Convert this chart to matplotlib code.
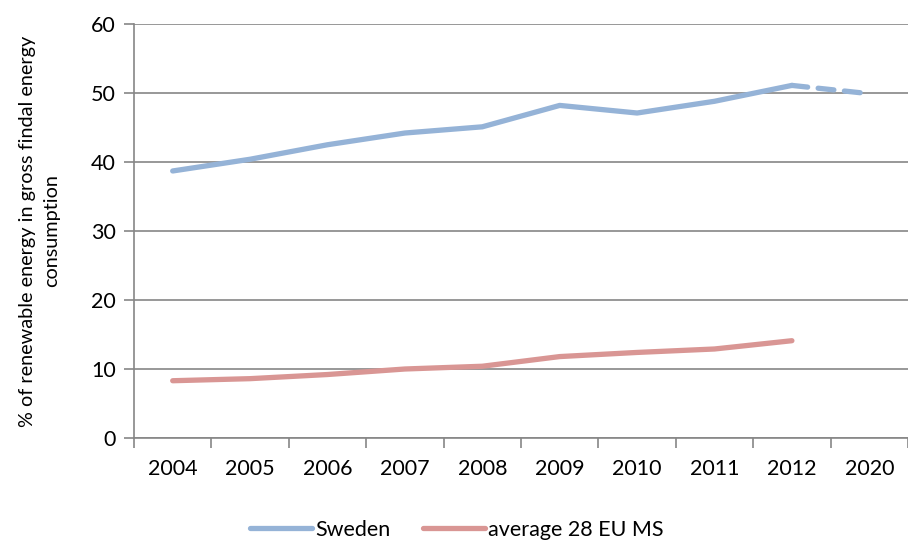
import matplotlib
matplotlib.use("Agg")
import matplotlib.pyplot as plt
import numpy as np

years = ["2004", "2005", "2006", "2007", "2008", "2009", "2010", "2011", "2012", "2020"]
sweden = [38.7, 40.4, 42.5, 44.2, 45.1, 48.2, 47.1, 48.8, 51.1, 49.9]
eu28 = [8.3, 8.6, 9.2, 10.0, 10.4, 11.8, 12.4, 12.9, 14.1]

plt.rcParams['font.family'] = ['Lato', 'DejaVu Sans']

fig = plt.figure(figsize=(9.08, 5.41), dpi=100)
ax = fig.add_axes([134/908, 1-438/541, 1-134/908, (438-24)/541])

blue = "#95B3D7"
red = "#D99694"
x = np.arange(len(years))
n_hist = len(eu28)

l1, = ax.plot(x[:n_hist], sweden[:n_hist], color=blue, lw=3.8, solid_capstyle='round', label="Sweden", zorder=3)
ax.plot(x[n_hist-1:], sweden[n_hist-1:], color=blue, lw=3.8, ls=(0, (3, 2)), dash_capstyle='round', zorder=3)
l2, = ax.plot(x[:n_hist], eu28, color=red, lw=3.8, solid_capstyle='round', label="average 28 EU MS", zorder=3)

ax.set_xlim(-0.5, len(years) - 0.5)
ax.set_ylim(0, 60)
ax.set_yticks(range(0, 61, 10))
ax.set_xticks(x)
ax.set_xticklabels(years, fontsize=15.5)
ax.set_xticks(np.arange(-0.5, len(years), 1), minor=True)
ax.tick_params(axis='x', which='major', length=0, pad=15)
ax.tick_params(axis='x', which='minor', length=7, color="#868686", width=1.2)
ax.tick_params(axis='y', length=7, color="#868686", width=1.2, labelsize=15.5, pad=6)
ax.yaxis.grid(True, color="#868686", lw=1.2)
ax.set_axisbelow(True)
for s in ['top', 'right']:
    ax.spines[s].set_visible(False)
for s in ['left', 'bottom']:
    ax.spines[s].set_color("#868686")
    ax.spines[s].set_linewidth(1.2)

ax.set_ylabel("% of renewable energy in gross findal energy\nconsumption", fontsize=14.3, labelpad=22, linespacing=1.55)

fig.legend(handles=[l1, l2], loc='center', bbox_to_anchor=(0.503, 1-530/541), ncol=2, frameon=False,
           fontsize=15.5, handlelength=2.9, handletextpad=0.15, columnspacing=1.5)

fig.savefig("out.png", dpi=100)
